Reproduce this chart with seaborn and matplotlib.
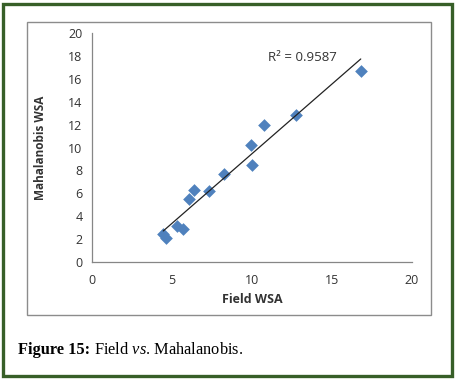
import numpy as np
import seaborn as sns
import pandas as pd
import matplotlib
matplotlib.use("Agg")
from matplotlib import pyplot as plt
from matplotlib.patches import Rectangle

# values
field_wsa = [4.47, 4.62, 5.30, 5.72, 6.07, 6.38, 7.34, 8.25, 9.94, 9.98, 10.77, 12.74, 16.80]
mahalanobis_wsa = [2.45, 2.10, 3.17, 2.88, 5.50, 6.26, 6.23, 7.69, 10.25, 8.47, 12.00, 12.81, 16.70]
r2_label = "R² = 0.9587"
x_ticks = [0, 5, 10, 15, 20]
y_ticks = list(range(0, 21, 2))

df = pd.DataFrame({"field": field_wsa, "maha": mahalanobis_wsa})

sns.set_style("white")
plt.rcParams["font.family"] = ["Open Sans", "DejaVu Sans"]
plt.rcParams["mathtext.fontset"] = "custom"
plt.rcParams["mathtext.rm"] = "Liberation Serif"
plt.rcParams["mathtext.it"] = "Liberation Serif:italic"
plt.rcParams["mathtext.bf"] = "Liberation Serif:bold"

fig = plt.figure(figsize=(4.55, 3.79), dpi=100)
ax = fig.add_axes([0.2015, 0.3087, 0.704, 0.6042])

sns.regplot(data=df, x="field", y="maha", ax=ax, ci=None, truncate=True,
            marker="D",
            scatter_kws={"color": "#4F81BD", "s": 42, "linewidths": 0, "alpha": 1},
            line_kws={"color": "#222222", "lw": 0.9})

ax.set_xlim(0, 20)
ax.set_ylim(0, 20)
ax.set_xticks(x_ticks)
ax.set_yticks(y_ticks)
ax.tick_params(axis="both", direction="out", length=3.5, width=0.8,
               color="#868686", labelsize=9, labelcolor="#333333", pad=3)
ax.tick_params(axis="x", pad=5)
for s in ["top", "right"]:
    ax.spines[s].set_visible(False)
for s in ["left", "bottom"]:
    ax.spines[s].set_color("#868686")
    ax.spines[s].set_linewidth(0.9)

ax.set_xlabel("Field WSA", fontsize=9, fontweight="bold", color="#333333")
ax.set_ylabel("Mahalanobis WSA", fontsize=8.5, fontweight="bold", color="#333333")
ax.xaxis.set_label_coords(0.5, -0.135)
ax.yaxis.set_label_coords(-0.14, 0.5)

ax.text(11.0, 17.9, r2_label, fontsize=9.5, color="#333333", va="center", ha="left")

# chart frame and outer green border
fig.patches.append(Rectangle((0.0593, 0.1689), 0.8877, 0.7731, transform=fig.transFigure,
                             fill=False, edgecolor="#8c8c8c", lw=1.0))
fig.patches.append(Rectangle((0.0066, 0.008), 0.9868, 0.981, transform=fig.transFigure,
                             fill=False, edgecolor="#375F28", lw=2.4))

# caption: bold label, then the rest placed right after it
cap_y = 1 - 354 / 379
head = fig.text(0.04, cap_y, "Figure 15:", fontsize=11.8, family="Liberation Serif",
                fontweight="bold", va="baseline", ha="left", color="black")
fig.canvas.draw()
bb = head.get_window_extent(fig.canvas.get_renderer())
fig.text(bb.x1 / fig.bbox.width + 0.008, cap_y, r"Field $\mathit{vs}$. Mahalanobis.",
         fontsize=11.8, family="Liberation Serif", va="baseline", ha="left", color="black")

fig.savefig("out.png", dpi=100)
